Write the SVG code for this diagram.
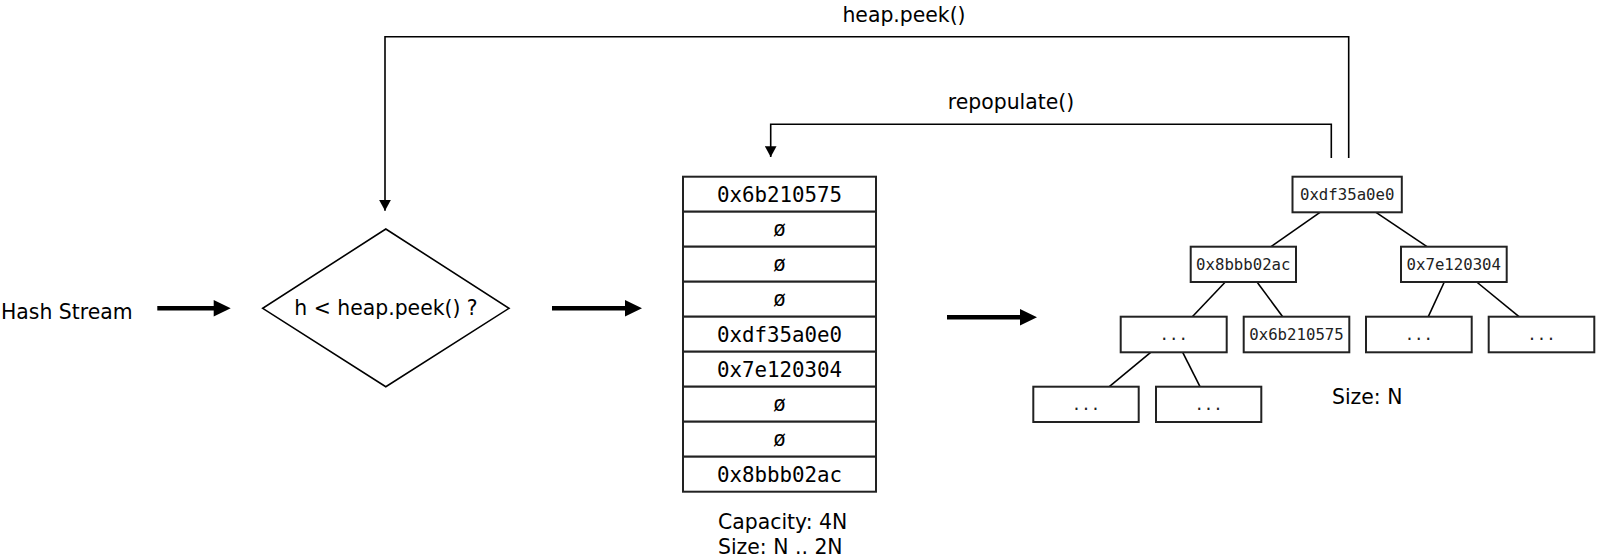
<svg xmlns="http://www.w3.org/2000/svg" width="1600" height="559" viewBox="0 0 1600 559">
  <defs>
    <style>
      .lbl { font-family: "DejaVu Sans", "Liberation Sans", sans-serif; font-size: 20.4px; fill: #000; }
      .mono { font-family: "DejaVu Sans Mono", "Liberation Mono", monospace; font-size: 20.8px; fill: #000; text-anchor: middle; }
      .tmono { font-family: "DejaVu Sans Mono", "Liberation Mono", monospace; font-size: 15.7px; fill: #222; text-anchor: middle; }
      .cell { fill: #fff; stroke: #222; stroke-width: 2; }
      .tbox { fill: #fff; stroke: #222; stroke-width: 2; }
      .line { fill: none; stroke: #000; stroke-width: 1.6; }
      .edge { fill: none; stroke: #000; stroke-width: 1.6; }
      .thick { fill: #000; stroke: none; }
      .diamond { fill: #fff; stroke: #000; stroke-width: 1.6; }
    </style>
    <marker id="arr" markerUnits="userSpaceOnUse" viewBox="0 0 10.7 11.7" refX="10.7" refY="5.85" markerWidth="10.7" markerHeight="11.7" orient="auto">
      <path d="M0,0 L10.7,5.85 L0,11.7 z" fill="#000"/>
    </marker>
  </defs>

  <rect width="1600" height="559" fill="#fff"/>

  <!-- connectors -->
  <g id="connectors">
    <path class="line" d="M1348.7,158 V36.7 H385 V210.7" marker-end="url(#arr)"/>
    <path class="line" d="M1331.3,158 V124.3 H770.7 V157" marker-end="url(#arr)"/>
    <polygon class="thick" points="157.3,306 213.7,306 213.7,300 230.7,308.3 213.7,316.6 213.7,310.6 157.3,310.6"/>
    <polygon class="thick" points="552,306 625,306 625,300 642,308.3 625,316.6 625,310.6 552,310.6"/>
    <polygon class="thick" points="947,315 1020,315 1020,309 1037,317.3 1020,325.6 1020,319.6 947,319.6"/>
    <line class="edge" x1="1320" y1="212.3" x2="1271" y2="246.7"/>
    <line class="edge" x1="1376" y1="212.3" x2="1427" y2="246.7"/>
    <line class="edge" x1="1225.3" y1="282" x2="1192.3" y2="316.7"/>
    <line class="edge" x1="1257" y1="282" x2="1282.7" y2="316.7"/>
    <line class="edge" x1="1444.3" y1="282" x2="1428.3" y2="316.7"/>
    <line class="edge" x1="1476.7" y1="282" x2="1519" y2="316.7"/>
    <line class="edge" x1="1150.7" y1="352.3" x2="1109.3" y2="386.7"/>
    <line class="edge" x1="1182.7" y1="352.3" x2="1200" y2="386.7"/>
  </g>

  <!-- labels on loops -->
  <g id="label-peek"><text class="lbl" x="904" y="22" text-anchor="middle">heap.peek()</text></g>
  <g id="label-repopulate"><text class="lbl" x="1011" y="109" text-anchor="middle">repopulate()</text></g>

  <g id="hash-stream"><text class="lbl" x="1" y="319">Hash Stream</text></g>

  <g id="decision">
    <polygon class="diamond" points="385.8,229 509,308.3 385.8,386.7 262.7,308.3"/>
    <text class="lbl" x="386" y="315.3" text-anchor="middle">h &lt; heap.peek() ?</text>
  </g>

  <g id="hash-table">
    <rect class="cell" x="683" y="176.7" width="193" height="35"/>
    <rect class="cell" x="683" y="211.7" width="193" height="35"/>
    <rect class="cell" x="683" y="246.7" width="193" height="35"/>
    <rect class="cell" x="683" y="281.7" width="193" height="35"/>
    <rect class="cell" x="683" y="316.7" width="193" height="35"/>
    <rect class="cell" x="683" y="351.7" width="193" height="35"/>
    <rect class="cell" x="683" y="386.7" width="193" height="35"/>
    <rect class="cell" x="683" y="421.7" width="193" height="35"/>
    <rect class="cell" x="683" y="456.7" width="193" height="35"/>
    <text class="mono" x="779.5" y="201.5">0x6b210575</text>
    <text class="mono" x="779.5" y="236">ø</text>
    <text class="mono" x="779.5" y="271">ø</text>
    <text class="mono" x="779.5" y="306">ø</text>
    <text class="mono" x="779.5" y="341.7">0xdf35a0e0</text>
    <text class="mono" x="779.5" y="376.7">0x7e120304</text>
    <text class="mono" x="779.5" y="411">ø</text>
    <text class="mono" x="779.5" y="446">ø</text>
    <text class="mono" x="779.5" y="481.5">0x8bbb02ac</text>
  </g>
  <g id="table-caption">
    <text class="lbl" x="718" y="529">Capacity: 4N</text>
    <text class="lbl" x="718" y="554">Size: N .. 2N</text>
  </g>

  <g id="tree-root">
    <rect class="tbox" x="1292.5" y="176.7" width="109.3" height="35.6"/>
    <text class="tmono" x="1347.2" y="200">0xdf35a0e0</text>
  </g>
  <g id="tree-l">
    <rect class="tbox" x="1190.7" y="246.7" width="105.3" height="35.3"/>
    <text class="tmono" x="1243.3" y="270">0x8bbb02ac</text>
  </g>
  <g id="tree-r">
    <rect class="tbox" x="1401" y="246.7" width="105.7" height="35.3"/>
    <text class="tmono" x="1453.8" y="270">0x7e120304</text>
  </g>
  <g id="tree-ll">
    <rect class="tbox" x="1120.7" y="316.7" width="106" height="35.6"/>
    <text class="tmono" x="1173.7" y="340">...</text>
  </g>
  <g id="tree-lr">
    <rect class="tbox" x="1243.7" y="316.7" width="105.6" height="35.6"/>
    <text class="tmono" x="1296.5" y="340">0x6b210575</text>
  </g>
  <g id="tree-rl">
    <rect class="tbox" x="1366" y="316.7" width="105.7" height="35.6"/>
    <text class="tmono" x="1418.8" y="340">...</text>
  </g>
  <g id="tree-rr">
    <rect class="tbox" x="1488.7" y="316.7" width="105.6" height="35.6"/>
    <text class="tmono" x="1541.5" y="340">...</text>
  </g>
  <g id="tree-lll">
    <rect class="tbox" x="1033.3" y="386.7" width="105.4" height="35.3"/>
    <text class="tmono" x="1086" y="410">...</text>
  </g>
  <g id="tree-llr">
    <rect class="tbox" x="1156" y="386.7" width="105.3" height="35.3"/>
    <text class="tmono" x="1208.6" y="410">...</text>
  </g>
  <g id="tree-caption"><text class="lbl" x="1332" y="404">Size: N</text></g>
</svg>
